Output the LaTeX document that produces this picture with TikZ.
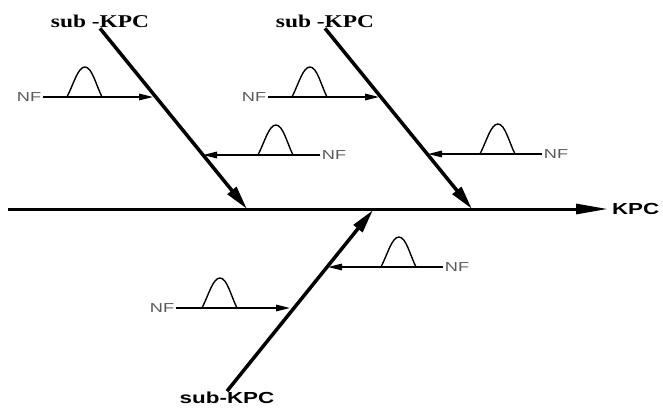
\documentclass[tikz,border=0pt]{standalone}
\usepackage{fontspec}
\usepackage{tikz}
\usepackage{xcolor}
\usetikzlibrary{arrows.meta, positioning}
\setmainfont{Liberation Serif}
\newfontfamily\serifwide[FakeStretch=1.3]{Liberation Serif}
\newfontfamily\sanswide[FakeStretch=1.4]{Liberation Sans}
\definecolor{nfgray}{HTML}{5A5A5A}
\tikzstyle{subkpc} = [font=\serifwide\bfseries\fontsize{18}{18}\selectfont, inner sep=1pt, outer sep=0pt]
\tikzstyle{sublow} = [font=\sanswide\bfseries\fontsize{16}{16}\selectfont, inner sep=1pt, outer sep=0pt]
\tikzstyle{kpclabel} = [font=\sanswide\bfseries\fontsize{16}{16}\selectfont, inner sep=4pt, outer sep=0pt, anchor=west]
\tikzstyle{nf} = [font=\sanswide\fontsize{13}{13}\selectfont, text=nfgray, inner sep=1.5pt, outer sep=0pt]
\tikzstyle{spine} = [-{Triangle[length=32pt,width=10pt]}, line width=3pt]
\tikzstyle{branch} = [-{Triangle[length=24pt,width=11pt]}, line width=3.5pt]
\tikzstyle{nfarrow} = [-{Triangle[length=14pt,width=6.5pt]}, line width=1.5pt]
\tikzstyle{bump} = [line width=1.4pt, line join=round]
\newcommand{\nfbump}[2]{\draw[bump, shift={(#1,#2)}] (0,0) .. controls (7,-14) and (11,-30) .. (18,-30) .. controls (25,-30) and (29,-12) .. (35,0);}

\begin{document}
\begin{tikzpicture}[x=1pt, y=-1pt]
    \useasboundingbox (0,0) rectangle (663,408);

    \node[subkpc] (subleft) at (100,21) {sub -KPC};
    \node[subkpc] (submid) at (325,21) {sub -KPC};
    \node[sublow] (sublow) at (227,398) {sub-KPC};
    \node[kpclabel] (kpc) at (608,209) {KPC};

    \coordinate (tail) at (8,209);
    \coordinate (join1) at (247,209);
    \coordinate (join2) at (472,209);
    \coordinate (join3) at (373,210);

    \draw[spine] (tail) -- (kpc.west);
    \draw[branch] (subleft.south) -- (join1);
    \draw[branch] (submid.south) -- (join2);
    \draw[branch] (sublow.north) -- (join3);

    \node[nf] (nf1) at (29,97) {NF};
    \node[nf] (nf2) at (334,155) {NF};
    \node[nf] (nf3) at (254,97) {NF};
    \node[nf] (nf4) at (556,154) {NF};
    \node[nf] (nf5) at (457,267) {NF};
    \node[nf] (nf6) at (162,308) {NF};

    \coordinate (hit1) at (153,97);
    \coordinate (hit2) at (203,155);
    \coordinate (hit3) at (379,97);
    \coordinate (hit4) at (428,154);
    \coordinate (hit5) at (328,267);
    \coordinate (hit6) at (290,308);

    \draw[nfarrow] (nf1) -- (hit1);
    \draw[nfarrow] (nf2) -- (hit2);
    \draw[nfarrow] (nf3) -- (hit3);
    \draw[nfarrow] (nf4) -- (hit4);
    \draw[nfarrow] (nf5) -- (hit5);
    \draw[nfarrow] (nf6) -- (hit6);

    \nfbump{67}{97}
    \nfbump{258}{155}
    \nfbump{292}{97}
    \nfbump{480}{154}
    \nfbump{381}{267}
    \nfbump{202}{308}
\end{tikzpicture}
\end{document}
